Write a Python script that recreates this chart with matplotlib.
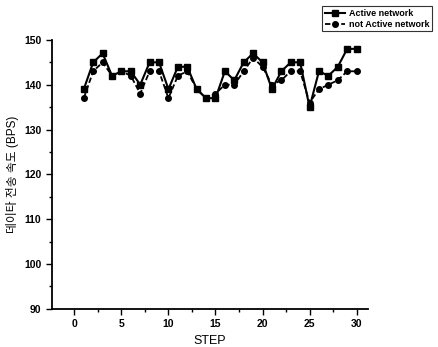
import matplotlib
matplotlib.use("Agg")
import matplotlib.pyplot as plt
from matplotlib.ticker import MultipleLocator

plt.rcParams['font.family'] = ['Liberation Sans', 'Noto Sans CJK KR', 'DejaVu Sans']

# ---------- data ----------
steps = list(range(1, 31))
active = [139, 145, 147, 142, 143, 143, 140, 145, 145, 139,
          144, 144, 139, 137, 137, 143, 141, 145, 147, 145,
          139, 143, 145, 145, 135, 143, 142, 144, 148, 148]
not_active = [137, 143, 145, 142, 143, 142, 138, 143, 143, 137,
              142, 143, 139, 137, 138, 140, 140, 143, 146, 144,
              140, 141, 143, 143, 136, 139, 140, 141, 143, 143]
series_names = ["Active network", "not Active network"]
x_label = "STEP"
y_label = "데이타 전송 속도 (BPS)"
# --------------------------

fig = plt.figure(figsize=(4.39, 3.47), dpi=100)
ax = fig.add_axes([0.118, 0.11, 0.72, 0.775])

ax.plot(steps, active, color="black", lw=1.5, marker="s", ms=4.5,
        label=series_names[0])
ax.plot(steps, not_active, color="black", lw=1.3, ls=(0, (3, 1.5)), marker="o", ms=4,
        label=series_names[1])

ax.set_xlim(-2.4, 31.2)
ax.set_ylim(90, 150)
ax.xaxis.set_major_locator(MultipleLocator(5))
ax.xaxis.set_minor_locator(MultipleLocator(2.5))
ax.yaxis.set_major_locator(MultipleLocator(10))
ax.yaxis.set_minor_locator(MultipleLocator(5))
ax.tick_params(which="major", direction="out", length=4, width=1, labelsize=7.5)
ax.tick_params(which="minor", direction="out", length=2.5, width=1)
for lab in ax.get_xticklabels() + ax.get_yticklabels():
    lab.set_fontweight("bold")

for side in ("top", "right"):
    ax.spines[side].set_visible(False)
for side in ("left", "bottom"):
    ax.spines[side].set_linewidth(1.3)

ax.set_xlabel(x_label, fontsize=9)
ax.set_ylabel(y_label, fontsize=8.5)

leg = fig.legend(loc="upper right", bbox_to_anchor=(0.995, 0.995), fontsize=6.5,
                 frameon=True, fancybox=False, edgecolor="black", handlelength=2.2,
                 borderpad=0.3, labelspacing=0.2, handletextpad=0.5)
leg.get_frame().set_linewidth(0.8)
for t in leg.get_texts():
    t.set_fontweight("bold")

fig.savefig("out.png", dpi=100)
